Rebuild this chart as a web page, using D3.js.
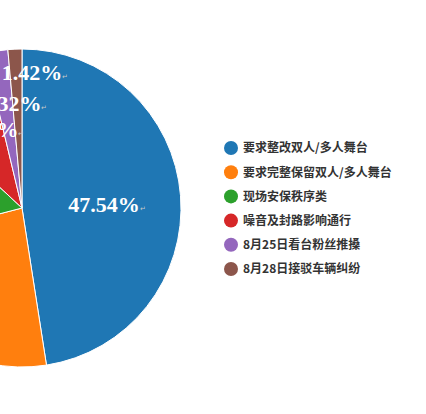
<!DOCTYPE html>
<html>
<head>
<meta charset="utf-8">
<script src="https://cdn.jsdelivr.net/npm/d3@7"></script>
<style>
  html, body { margin: 0; padding: 0; background: #fff; }
  svg { display: block; }
</style>
</head>
<body>
<svg id="chart" width="426" height="414"></svg>
<script>
// data
const categories = [
  "要求整改双人/多人舞台",
  "要求完整保留双人/多人舞台",
  "现场安保秩序类",
  "噪音及封路影响通行",
  "8月25日看台粉丝推搡",
  "8月28日接驳车辆纠纷"
];
const values = [47.54, 23.40, 16.00, 9.32, 2.32, 1.42];
const colors = d3.schemeCategory10.slice(0, 6);

// layout
const width = 426, height = 414;
const cx = 22, cy = 208, radius = 159;
// label placement relative to slice middle (deg) and radius fraction
const labelShift = [2.4, 14, 2, 8.8, 5, 8];
const labelRad = [0.535, 0.56, 0.56, 0.53, 0.66, 0.855];

const svg = d3.select("#chart");

const pie = d3.pie().sort(null).value(d => d)(values);
const arc = d3.arc().innerRadius(0).outerRadius(radius);

const g = svg.append("g").attr("transform", `translate(${cx},${cy})`);

g.selectAll("path.slice")
  .data(pie)
  .enter()
  .append("path")
  .attr("class", "slice")
  .attr("d", arc)
  .attr("fill", (d, i) => colors[i])
  .attr("stroke", "#fff")
  .attr("stroke-width", 1);

const fmt = d3.format(".2f");

const labels = g.selectAll("text.lbl")
  .data(pie)
  .enter()
  .append("text")
  .attr("class", "lbl")
  .attr("transform", (d, i) => {
    const a = (d.startAngle + d.endAngle) / 2 + labelShift[i] * Math.PI / 180;
    const r = radius * labelRad[i];
    return `translate(${r * Math.sin(a)},${-r * Math.cos(a) + 7.5})`;
  })
  .attr("text-anchor", "middle")
  .style("font-family", "'Liberation Serif', 'Times New Roman', serif")
  .style("font-weight", "bold")
  .style("font-size", "22px")
  .attr("fill", "#fff");

labels.append("tspan").text(d => fmt(d.data) + "%");
labels.append("tspan")
  .text("↵")
  .style("font-size", "7px")
  .style("font-weight", "normal")
  .attr("fill", "#c8c8c8")
  .attr("dy", -1);

// legend
const yLegend = d3.scalePoint()
  .domain(categories)
  .range([148, 269]);

const legend = svg.append("g");

const rows = legend.selectAll("g.row")
  .data(categories)
  .enter()
  .append("g")
  .attr("class", "row")
  .attr("transform", d => `translate(231,${yLegend(d)})`);

rows.append("circle")
  .attr("r", 7)
  .attr("fill", (d, i) => colors[i]);

rows.append("text")
  .attr("x", 12)
  .attr("dy", "0.36em")
  .style("font-family", "'Noto Sans CJK SC', 'Noto Sans', sans-serif")
  .style("font-weight", "bold")
  .style("font-size", "12px")
  .attr("fill", "#333")
  .text(d => d);
</script>
</body>
</html>
